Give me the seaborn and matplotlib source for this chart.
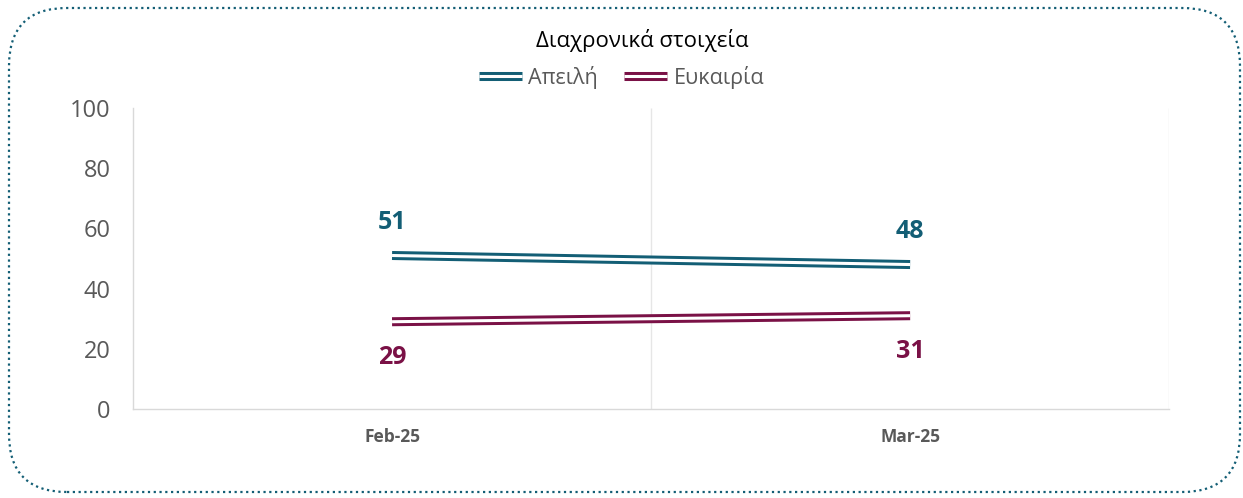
import pandas as pd
import matplotlib.pyplot as plt
import matplotlib.patheffects as pe
from matplotlib.lines import Line2D
from matplotlib.patches import FancyBboxPatch
from matplotlib.transforms import IdentityTransform
import seaborn as sns

# data
months = ['Feb-25', 'Mar-25']
threat = [51, 48]
opportunity = [29, 31]
series_names = ['Απειλή', 'Ευκαιρία']
colors = ['#135E75', '#7A1146']

df = pd.DataFrame({
    'month': months * 2,
    'value': threat + opportunity,
    'series': [series_names[0]] * 2 + [series_names[1]] * 2,
})
df['x'] = df['month'].map({m: i for i, m in enumerate(months)})

sns.set_theme(style='white')
plt.rcParams['font.family'] = ['Open Sans', 'DejaVu Sans']
plt.rcParams['lines.solid_capstyle'] = 'butt'

fig = plt.figure(figsize=(12.43, 4.98), dpi=100)
ax = fig.add_axes([0.107, 0.1787, 0.8336, 0.6044])

palette = dict(zip(series_names, colors))
sns.lineplot(data=df, x='x', y='value', hue='series', palette=palette,
             linewidth=6.5, legend=False, ax=ax)
# thin white line on top gives the double-line look
sns.lineplot(data=df, x='x', y='value', hue='series',
             palette={s: 'white' for s in series_names},
             linewidth=2.2, legend=False, ax=ax)

ax.set_xlim(-0.5, 1.5)
ax.set_ylim(0, 100)
ax.set_yticks(range(0, 101, 20))
ax.set_xticks(range(len(months)))
ax.set_xticklabels(months, fontsize=12.5, fontweight='bold', color='#595959')
ax.tick_params(axis='y', labelsize=17, labelcolor='#595959', length=0, pad=16)
ax.tick_params(axis='x', length=0, pad=14)
ax.set_xlabel('')
ax.set_ylabel('')

for xv in [0.5, 1.5]:
    ax.axvline(xv, color='#E6E6E6', linewidth=1, zorder=0)
for side in ['top', 'right']:
    ax.spines[side].set_visible(False)
for side in ['left', 'bottom']:
    ax.spines[side].set_color('#D9D9D9')
    ax.spines[side].set_linewidth(1)

# data labels
for i in range(len(months)):
    ax.annotate(str(threat[i]), (i, threat[i]), xytext=(0, 24),
                textcoords='offset points', ha='center', va='center',
                fontsize=18, fontweight='bold', color=colors[0])
    ax.annotate(str(opportunity[i]), (i, opportunity[i]), xytext=(0, -26),
                textcoords='offset points', ha='center', va='center',
                fontsize=18, fontweight='bold', color=colors[1])

fig.text(0.517, 0.918, 'Διαχρονικά στοιχεία', ha='center', va='center',
         fontsize=16, color='black')

handles = [Line2D([], [], color='white', linewidth=2.2, solid_capstyle='butt',
                  path_effects=[pe.Stroke(linewidth=6.5, foreground=c), pe.Normal()])
           for c in colors]
fig.legend(handles, series_names, loc='center', bbox_to_anchor=(0.5, 0.845),
           ncol=2, frameon=False, fontsize=15.5, labelcolor='#595959',
           handlelength=2.0, handletextpad=0.3, columnspacing=1.2)

# rounded dotted frame, in pixels
border = FancyBboxPatch((9, 6), 1231, 484,
                        boxstyle='round,pad=0,rounding_size=58',
                        transform=IdentityTransform(), fill=False,
                        edgecolor='#135E75', linewidth=1.6, linestyle=(0, (1, 1.6)))
fig.patches.append(border)

fig.savefig('out.png', dpi=100)
